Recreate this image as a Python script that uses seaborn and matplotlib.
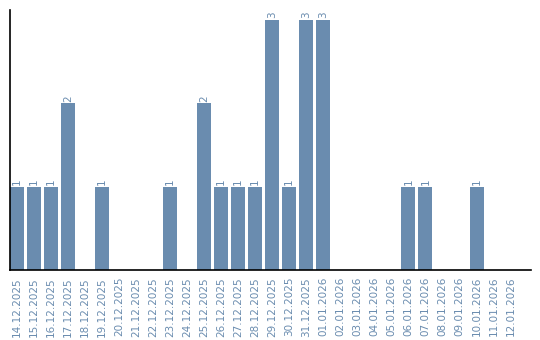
import matplotlib
matplotlib.use("Agg")
import matplotlib.pyplot as plt
import seaborn as sns
import pandas as pd

dates = ["14.12.2025", "15.12.2025", "16.12.2025", "17.12.2025", "18.12.2025",
         "19.12.2025", "20.12.2025", "21.12.2025", "22.12.2025", "23.12.2025",
         "24.12.2025", "25.12.2025", "26.12.2025", "27.12.2025", "28.12.2025",
         "29.12.2025", "30.12.2025", "31.12.2025", "01.01.2026", "02.01.2026",
         "03.01.2026", "04.01.2026", "05.01.2026", "06.01.2026", "07.01.2026",
         "08.01.2026", "09.01.2026", "10.01.2026", "11.01.2026", "12.01.2026"]
counts = [1, 1, 1, 2, 0, 1, 0, 0, 0, 1, 0, 2, 1, 1, 1, 3, 1, 3, 3, 0,
          0, 0, 0, 1, 1, 0, 0, 1, 0, 0]

color = "#6a8caf"
df = pd.DataFrame({"date": dates, "count": counts})

sns.set_style("white")
plt.rcParams['font.family'] = ['DejaVu Sans']

fig = plt.figure(figsize=(5.4, 3.4), dpi=100)
ax = fig.add_axes([10/540, 70/340, 521/540, 260/340])
sns.barplot(data=df, x="date", y="count", color=color, saturation=1,
            width=14/17, linewidth=0, edgecolor="none", ax=ax)

for i, v in enumerate(counts):
    if v > 0:
        ax.text(i, v + 0.02, str(v), rotation=90, ha="center", va="bottom",
                fontsize=7.5, color=color)

ax.set_xlim(-0.41, 30.2)
ax.set_ylim(0, 3.12)
ax.set_xlabel("")
ax.set_ylabel("")
ax.set_yticks([])
ax.set_xticks(range(len(dates)))
ax.set_xticklabels(dates, rotation=90, fontsize=7.5, color=color)
ax.tick_params(axis="x", length=0, pad=5)
for s in ["top", "right"]:
    ax.spines[s].set_visible(False)
for s in ["left", "bottom"]:
    ax.spines[s].set_color("black")
    ax.spines[s].set_linewidth(1.2)

fig.savefig("out.png", dpi=100)
